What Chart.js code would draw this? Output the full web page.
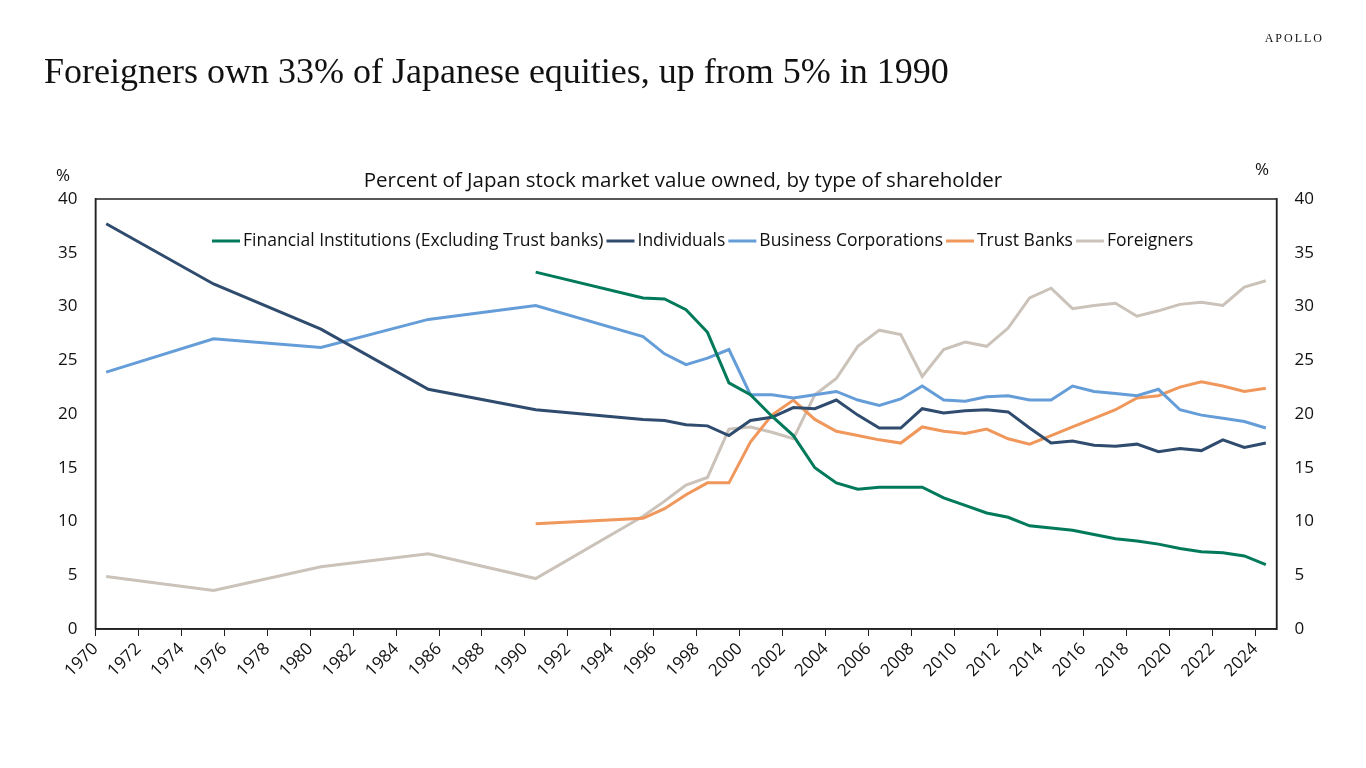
<!DOCTYPE html>
<html>
<head>
<meta charset="utf-8">
<script src="https://cdn.jsdelivr.net/npm/chart.js@4"></script>
<style>
  body { margin: 0; background: #fff; }
  #wrap { position: relative; width: 1366px; height: 768px; }
  #title { position: absolute; left: 44px; top: 50px; font: 36px "Liberation Serif", serif; color: #111; }
  #brand { position: absolute; right: 42px; top: 31px; font: 12px "Liberation Serif", serif; letter-spacing: 2px; color: #111; }
</style>
</head>
<body>
<div id="wrap">
  <div id="title">Foreigners own 33% of Japanese equities, up from 5% in 1990</div>
  <div id="brand">APOLLO</div>
  <canvas id="chart" width="1366" height="768"></canvas>
</div>
<script>
const earlyYears = [1970.5, 1975.5, 1980.5, 1985.5, 1990.5];
const annualYears = [1995.5, 1996.5, 1997.5, 1998.5, 1999.5, 2000.5, 2001.5, 2002.5, 2003.5, 2004.5,
  2005.5, 2006.5, 2007.5, 2008.5, 2009.5, 2010.5, 2011.5, 2012.5, 2013.5, 2014.5,
  2015.5, 2016.5, 2017.5, 2018.5, 2019.5, 2020.5, 2021.5, 2022.5, 2023.5, 2024.5];
const years = earlyYears.concat(annualYears);

const financial = [null, null, null, null, 33.2, 30.8, 30.7, 29.7, 27.6, 22.9, 21.8, 19.8, 18.0, 15.0, 13.6,
  13.0, 13.2, 13.2, 13.2, 12.2, 11.5, 10.8, 10.4, 9.6, 9.4, 9.2, 8.8, 8.4, 8.2, 7.9, 7.5, 7.2, 7.1, 6.8, 6.0];
const individuals = [37.7, 32.1, 27.9, 22.3, 20.4, 19.5, 19.4, 19.0, 18.9, 18.0, 19.4, 19.7, 20.6, 20.5, 21.3,
  19.9, 18.7, 18.7, 20.5, 20.1, 20.3, 20.4, 20.2, 18.7, 17.3, 17.5, 17.1, 17.0, 17.2, 16.5, 16.8, 16.6, 17.6, 16.9, 17.3];
const business = [23.9, 27.0, 26.2, 28.8, 30.1, 27.2, 25.6, 24.6, 25.2, 26.0, 21.8, 21.8, 21.5, 21.8, 22.1,
  21.3, 20.8, 21.4, 22.6, 21.3, 21.2, 21.6, 21.7, 21.3, 21.3, 22.6, 22.1, 21.9, 21.7, 22.3, 20.4, 19.9, 19.6, 19.3, 18.7];
const trust = [null, null, null, null, 9.8, 10.3, 11.2, 12.5, 13.6, 13.6, 17.4, 19.9, 21.3, 19.5, 18.4,
  18.0, 17.6, 17.3, 18.8, 18.4, 18.2, 18.6, 17.7, 17.2, 18.0, 18.8, 19.6, 20.4, 21.5, 21.7, 22.5, 23.0, 22.6, 22.1, 22.4];
const foreigners = [4.9, 3.6, 5.8, 7.0, 4.7, 10.5, 11.9, 13.4, 14.1, 18.6, 18.8, 18.3, 17.7, 21.8, 23.3,
  26.3, 27.8, 27.4, 23.5, 26.0, 26.7, 26.3, 28.0, 30.8, 31.7, 29.8, 30.1, 30.3, 29.1, 29.6, 30.2, 30.4, 30.1, 31.8, 32.4];

const seriesNames = ['Financial Institutions (Excluding Trust banks)', 'Individuals', 'Business Corporations', 'Trust Banks', 'Foreigners'];
const seriesColors = ['#007a5a', '#2f4b6e', '#659dd8', '#f0975c', '#cbc2ba'];
const seriesValues = [financial, individuals, business, trust, foreigners];

const font = '"Open Sans", sans-serif';

const pts = vals => years.map((x, i) => ({ x: x, y: vals[i] })).filter(p => p.y !== null);

const extras = {
  id: 'extras',
  afterDraw(chart) {
    const { ctx, chartArea: a } = chart;
    ctx.save();
    ctx.strokeStyle = '#222';
    ctx.lineWidth = 1.5;
    ctx.strokeRect(a.left, a.top, a.right - a.left, a.bottom - a.top);
    ctx.fillStyle = '#111';
    ctx.font = '20.5px ' + font;
    ctx.textAlign = 'center';
    ctx.textBaseline = 'middle';
    ctx.fillText('Percent of Japan stock market value owned, by type of shareholder', 683, 181);
    ctx.font = '17px ' + font;
    ctx.fillText('%', 63, 176);
    ctx.fillText('%', 1262, 170);
    // legend inside plot area
    ctx.font = '17.5px ' + font;
    ctx.textAlign = 'left';
    let x = 212;
    const y = 241;
    chart.data.datasets.forEach(ds => {
      ctx.strokeStyle = ds.borderColor;
      ctx.lineWidth = 3;
      ctx.beginPath();
      ctx.moveTo(x, y);
      ctx.lineTo(x + 28, y);
      ctx.stroke();
      x += 31;
      ctx.fillStyle = '#111';
      ctx.fillText(ds.label, x, y);
      x += ctx.measureText(ds.label).width + 3;
    });
    ctx.restore();
  }
};

new Chart(document.getElementById('chart'), {
  type: 'line',
  data: {
    datasets: seriesValues.map((v, i) => ({
      label: seriesNames[i],
      data: pts(v),
      borderColor: seriesColors[i],
      borderWidth: 3,
      pointRadius: 0,
      tension: 0,
      yAxisID: 'y'
    }))
  },
  options: {
    responsive: false,
    animation: false,
    layout: { padding: { left: 48, right: 42, top: 199, bottom: 84 } },
    plugins: { legend: { display: false }, tooltip: { enabled: false } },
    scales: {
      x: {
        type: 'linear',
        min: 1970,
        max: 2025,
        grid: { drawOnChartArea: false, color: '#222', tickLength: 7 },
        border: { color: '#222', width: 1.5 },
        ticks: {
          stepSize: 2,
          includeBounds: false,
          minRotation: 45,
          maxRotation: 45,
          color: '#111',
          font: { family: font, size: 17 },
          callback: v => String(v)
        }
      },
      y: {
        position: 'left',
        min: 0,
        max: 40,
        grid: { display: false },
        border: { color: '#222', width: 1.5 },
        ticks: { stepSize: 5, color: '#111', font: { family: font, size: 17 }, padding: 10 }
      },
      y2: {
        position: 'right',
        min: 0,
        max: 40,
        grid: { display: false },
        border: { color: '#222', width: 1.5 },
        ticks: { stepSize: 5, color: '#111', font: { family: font, size: 17 }, padding: 10 }
      }
    }
  },
  plugins: [extras]
});
</script>
</body>
</html>
